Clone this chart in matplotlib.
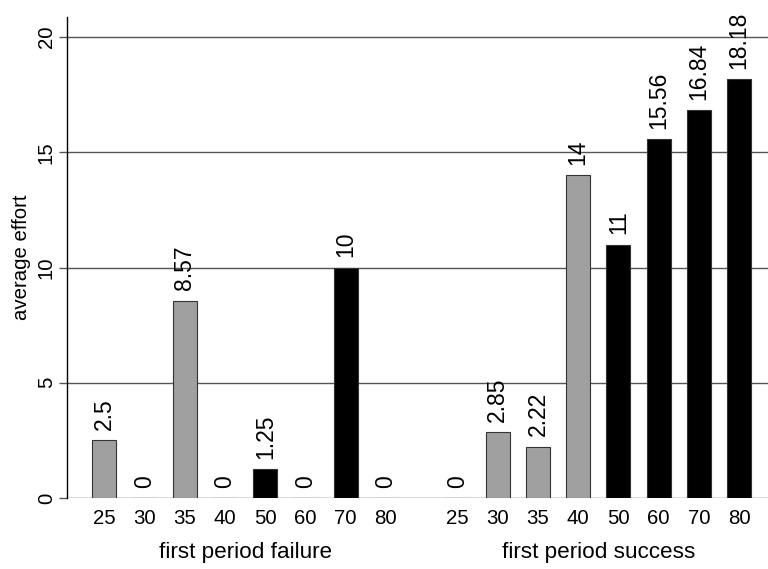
import matplotlib
matplotlib.use("Agg")
import matplotlib.pyplot as plt
from matplotlib.transforms import blended_transform_factory

plt.rcParams["font.family"] = ["Liberation Sans", "DejaVu Sans"]

ABILITY = ["25", "30", "35", "40", "50", "60", "70", "80"]
FAILURE = [2.5, 0, 8.57, 0, 1.25, 0, 10, 0]
SUCCESS = [0, 2.85, 2.22, 14, 11, 15.56, 16.84, 18.18]
GROUPS = ["first period failure", "first period success"]
Y_TICKS = [0, 5, 10, 15, 20]

GROUP_OFFSET = 8.78
BAR_COLORS = ["#a0a0a0"] * 4 + ["#000000"] * 4


def main():
    fig = plt.figure(figsize=(7.68, 5.69), dpi=100)
    ax = fig.add_axes([0.0872, 0.1248, 0.9128, 0.8452])

    xs_fail = list(range(len(ABILITY)))
    xs_succ = [x + GROUP_OFFSET for x in xs_fail]

    for xs, vals in ((xs_fail, FAILURE), (xs_succ, SUCCESS)):
        ax.bar(xs, vals, width=0.6, color=BAR_COLORS,
               edgecolor="#333333", linewidth=0.8, zorder=3)
        for x, v in zip(xs, vals):
            ax.annotate(f"{v:g}", (x, v), xytext=(0, 7.5),
                        textcoords="offset points", rotation=90,
                        ha="center", va="bottom", fontsize=16.5, zorder=4)

    ax.set_xlim(-0.93, 16.5)
    ax.set_ylim(0, 20.87)

    ax.set_yticks(Y_TICKS)
    ax.set_yticklabels([str(t) for t in Y_TICKS], rotation=90, va="center")
    ax.tick_params(axis="y", length=6, width=1, color="#555555",
                   labelsize=14.7, pad=2)
    ax.yaxis.grid(True, color="#555555", linewidth=1)
    ax.set_axisbelow(True)

    ax.set_xticks(xs_fail + xs_succ)
    ax.set_xticklabels(ABILITY + ABILITY)
    ax.tick_params(axis="x", length=0, labelsize=14.7, pad=8)

    for side in ("top", "right", "bottom"):
        ax.spines[side].set_visible(False)
    ax.spines["left"].set_color("black")
    ax.spines["left"].set_linewidth(1)

    trans = blended_transform_factory(ax.transData, ax.transAxes)
    ax.text(3.5, -0.1137, GROUPS[0], transform=trans, ha="center",
            va="center", fontsize=16.2)
    ax.text(3.5 + GROUP_OFFSET, -0.1137, GROUPS[1], transform=trans,
            ha="center", va="center", fontsize=16.2)

    ax.set_ylabel("average effort", fontsize=14.7, labelpad=4)

    fig.savefig("out.png", dpi=100)
    plt.close(fig)


if __name__ == "__main__":
    main()
